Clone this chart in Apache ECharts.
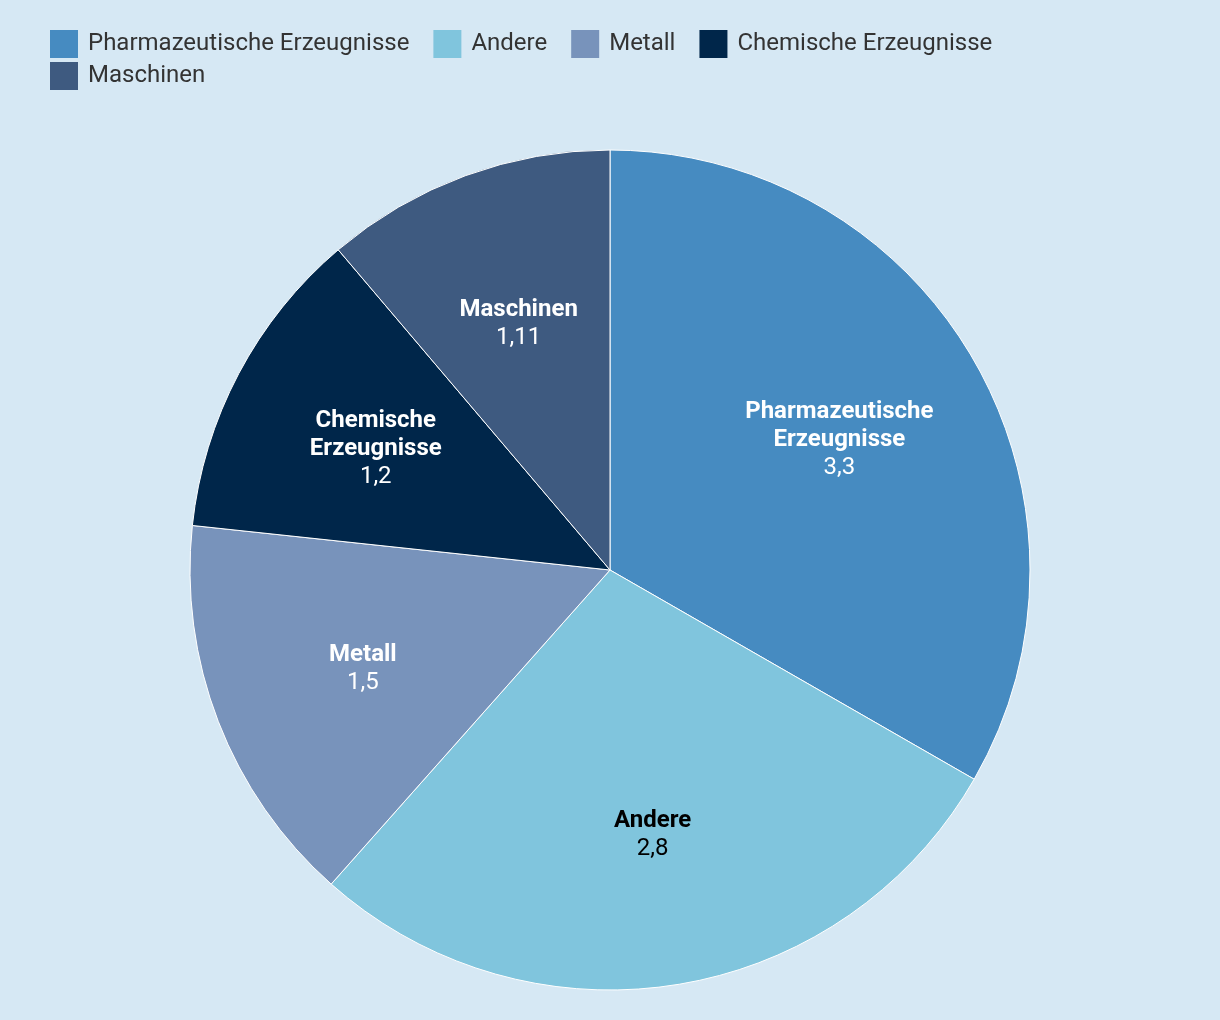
<!DOCTYPE html>
<html><head><meta charset="utf-8">
<script src="https://cdn.jsdelivr.net/npm/echarts@6/dist/echarts.min.js"></script>
<style>html,body{margin:0;padding:0;background:#d6e8f4}#c{width:1220px;height:1020px}</style>
</head><body><div id="c"></div>
<script>
const categories = ['Pharmazeutische Erzeugnisse', 'Andere', 'Metall', 'Chemische Erzeugnisse', 'Maschinen'];
const labelNames = ['Pharmazeutische\nErzeugnisse', 'Andere', 'Metall', 'Chemische\nErzeugnisse', 'Maschinen'];
const values = [3.3, 2.8, 1.5, 1.2, 1.11];
const valueLabels = ['3,3', '2,8', '1,5', '1,2', '1,11'];
const colors = ['#468bc1', '#80c5dd', '#7893bb', '#00264a', '#3e5a80'];
const labelColors = ['#ffffff', '#000000', '#ffffff', '#ffffff', '#ffffff'];

const baseData = categories.map((c, i) => ({ name: c, value: values[i], itemStyle: { color: colors[i] } }));
const labelData = categories.map((c, i) => ({
  name: c, value: values[i],
  label: { formatter: '{b|' + labelNames[i].replace('\n', '}\n{b|') + '}\n{v|' + valueLabels[i] + '}',
           rich: { b: { color: labelColors[i] }, v: { color: labelColors[i] } } }
}));

const chart = echarts.init(document.getElementById('c'));
const legendText = { fontFamily: 'Roboto', fontSize: 24, color: '#333333', padding: [4, 0, 0, 5] };
const legendBase = { itemWidth: 28, itemHeight: 28, itemGap: 24, icon: 'rect', textStyle: legendText,
  itemStyle: { borderWidth: 0 } };
chart.setOption({
  backgroundColor: '#d6e8f4',
  animation: false,
  color: colors,
  legend: [
    Object.assign({ data: categories.slice(0, 4), left: 45, top: 25 }, legendBase),
    Object.assign({ data: categories.slice(4), left: 45, top: 57 }, legendBase)
  ],
  series: [
    {
      type: 'pie', center: [610, 570], radius: [0, 420], startAngle: 90, clockwise: true,
      label: { show: false }, labelLine: { show: false },
      itemStyle: { borderColor: '#ffffff', borderWidth: 1 },
      emphasis: { disabled: true },
      data: baseData
    },
    {
      type: 'pie', center: [610, 570], radius: [104, 420], startAngle: 90, clockwise: true, silent: true,
      legendHoverLink: false,
      itemStyle: { color: 'transparent', borderWidth: 0 },
      label: {
        show: true, position: 'inside', offset: [0, 3],
        rich: {
          b: { fontFamily: 'Roboto', fontSize: 24, fontWeight: 'bold', lineHeight: 28 },
          v: { fontFamily: 'Roboto', fontSize: 24, lineHeight: 28 }
        }
      },
      labelLine: { show: false },
      emphasis: { disabled: true },
      data: labelData
    }
  ]
});
</script></body></html>
